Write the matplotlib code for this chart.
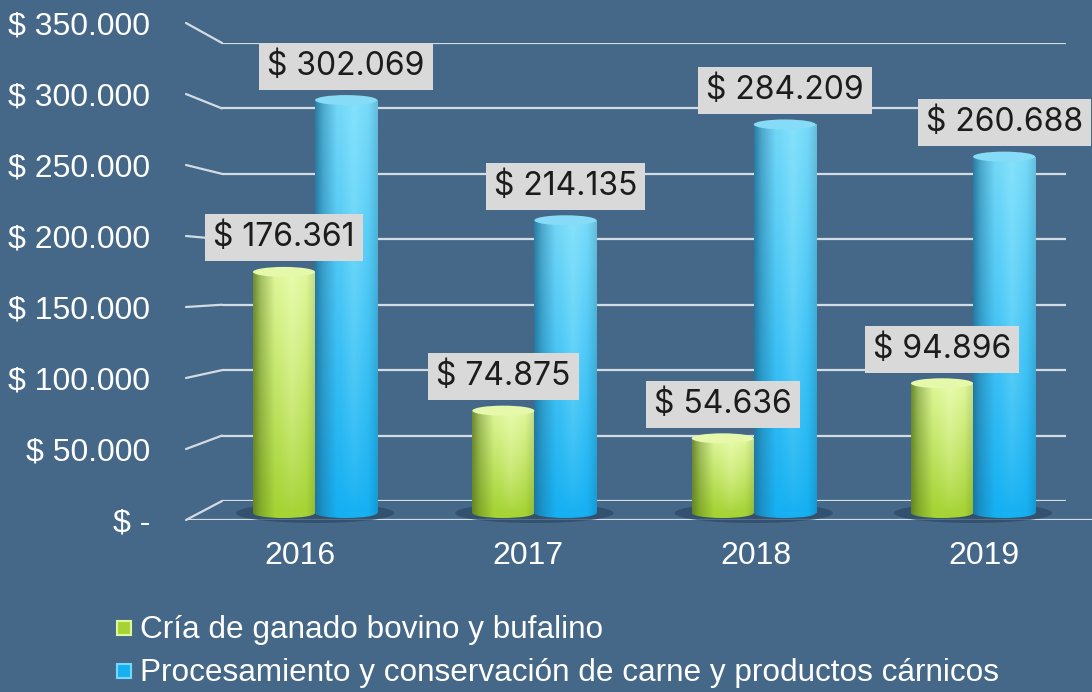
import numpy as np
import matplotlib
matplotlib.use('Agg')
import matplotlib.pyplot as plt
from matplotlib.patches import Ellipse, ConnectionPatch, Rectangle
from matplotlib.colors import to_rgb

# ---------------- data ----------------
years = ['2016', '2017', '2018', '2019']
cria = [176361, 74875, 54636, 94896]
procesamiento = [302069, 214135, 284209, 260688]
series_names = ['Cría de ganado bovino y bufalino',
                'Procesamiento y conservación de carne y productos cárnicos']
yticks = [0, 50000, 100000, 150000, 200000, 250000, 300000, 350000]
ytick_labels = ['$ -', '$ 50.000', '$ 100.000', '$ 150.000', '$ 200.000',
                '$ 250.000', '$ 300.000', '$ 350.000']

# ---------------- style ----------------
BG = '#456889'
GRID = '#d3dbe3'
FONT = ['Liberation Sans', 'DejaVu Sans']
LABEL_FONT = ['Inter', 'DejaVu Sans']
GREEN = dict(top='#dff79a', bot='#a5d334', dark='#5a7a1e', hi='#f2ffc0', cap='#e6f8aa')
BLUE = dict(top='#74d8f8', bot='#16b0f2', dark='#1d6e96', hi='#9aeeff', cap='#86dcf6')

W, H = 1092, 692
fig = plt.figure(figsize=(W / 100, H / 100), dpi=100, facecolor=BG)


def px_axes(x0, yb, x1, yt, z):
    ax = fig.add_axes([x0 / W, (H - yb) / H, (x1 - x0) / W, (yb - yt) / H])
    ax.set_facecolor('none')
    ax.set_zorder(z)
    return ax


def fmt(v):
    return '$ ' + f'{v:,}'.replace(',', '.')


# back wall (gridlines)
back = px_axes(222, 501, 1066, 43, 1)
back.set_xlim(0, 1)
back.set_ylim(0, 350000)
for v in yticks:
    back.axhline(v, color=GRID, lw=1.6, solid_capstyle='butt')
back.axis('off')

# front plane (tick labels, floor edge)
front = px_axes(186, 520, 1098, 23, 2)
front.set_xlim(-0.5, 3.5)
front.set_ylim(0, 350000)
for s in front.spines.values():
    s.set_visible(False)
front.axhline(0, color=GRID, lw=1.6)
front.set_yticks(yticks)
front.set_yticklabels(ytick_labels)
front.set_xticks(range(len(years)))
front.set_xticklabels(years)
front.tick_params(axis='y', length=0, pad=26, labelsize=23, labelcolor='white')
front.tick_params(axis='x', length=0, pad=15, labelsize=23, labelcolor='white')
for lab in front.get_xticklabels() + front.get_yticklabels():
    lab.set_family(FONT)

# side diagonals joining front plane and back wall
for v in yticks:
    con = ConnectionPatch(xyA=(-0.5, v), coordsA=front.transData,
                          xyB=(0, v), coordsB=back.transData,
                          color=GRID, lw=1.6)
    fig.add_artist(con)

# bars plane
SCALE = 1.367  # px per 1000
ybot = -20000
bars_ax = px_axes(205.4, 513 - ybot / 1000 * SCALE, 1082.7, 513 - 350 * SCALE, 3)
bars_ax.set_xlim(-0.5, 3.5)
bars_ax.set_ylim(ybot, 350000)
bars_ax.axis('off')

w = 0.283
x = np.arange(len(years))
ell_h = 10 / SCALE * 1000


def cyl_img(c, n=80):
    xs = np.linspace(0, 1, n)
    ys = np.linspace(0, 1, n)
    top = np.array(to_rgb(c['top']))
    bot = np.array(to_rgb(c['bot']))
    dark = np.array(to_rgb(c['dark']))
    hi = np.array(to_rgb(c['hi']))
    base = bot[None, :] * (1 - ys[:, None]) + top[None, :] * ys[:, None]
    img = np.repeat(base[:, None, :], n, axis=1)
    d = np.interp(xs, [0, 0.12, 0.35, 1], [0.85, 0.45, 0.0, 0.0])
    h = np.interp(xs, [0, 0.4, 0.62, 0.85, 1], [0, 0, 0.45, 0.05, 0.0])
    r = np.interp(xs, [0, 0.85, 1], [0, 0, 0.12])
    img = img * (1 - d[None, :, None]) + dark[None, None, :] * d[None, :, None]
    hh = h[None, :, None] * ys[:, None, None] ** 0.6
    img = img * (1 - hh) + hi[None, None, :] * hh
    img = img * (1 - r[None, :, None])
    return np.clip(img, 0, 1)


def draw_series(xpos, vals, c):
    bars = bars_ax.bar(xpos, vals, width=w, color='none', edgecolor='none', zorder=3)
    img = cyl_img(c)
    for rect, v in zip(bars, vals):
        x0 = rect.get_x()
        x1 = x0 + rect.get_width()
        xc = (x0 + x1) / 2
        im = bars_ax.imshow(img, extent=(x0, x1, 0, v), origin='lower',
                            aspect='auto', zorder=3, interpolation='bilinear')
        im.set_clip_path(rect)
        bot_e = Ellipse((xc, 0), w, ell_h, facecolor='none', edgecolor='none')
        bars_ax.add_patch(bot_e)
        im2 = bars_ax.imshow(img[:2], extent=(x0, x1, -ell_h / 2, 0.01), origin='lower',
                             aspect='auto', zorder=3, interpolation='bilinear')
        im2.set_clip_path(bot_e)
        bars_ax.add_patch(Ellipse((xc, v), w, ell_h, facecolor=c['cap'],
                                  edgecolor='none', zorder=4))
        bars_ax.annotate(fmt(v), xy=(xc, v), xytext=(0, 24.5), textcoords='offset points',
                         ha='center', va='center', fontsize=23, color='#1c1c1c',
                         family=LABEL_FONT, zorder=6,
                         bbox=dict(boxstyle='square,pad=0.25', facecolor='#d9d9d9',
                                   edgecolor='none'))


# ground shadows
for xi in x:
    bars_ax.add_patch(Ellipse((xi, 0), 2.55 * w, 2.0 * ell_h, facecolor='#2d4a66',
                              edgecolor='none', alpha=0.75, zorder=2))

draw_series(x - w / 2, cria, GREEN)
draw_series(x + w / 2, procesamiento, BLUE)

# legend
leg_items = [(series_names[0], GREEN, 628), (series_names[1], BLUE, 671)]
for name, c, yc in leg_items:
    fig.patches.append(Rectangle((117 / W, (H - yc - 7) / H), 14 / W, 14 / H,
                                 transform=fig.transFigure, facecolor=c['bot'],
                                 edgecolor=c['top'], lw=1.5))
    fig.text(140 / W, (H - yc - 2) / H, name, color='white', fontsize=22.7,
             family=FONT, ha='left', va='center')

fig.savefig('out.png', dpi=100, facecolor=BG)
